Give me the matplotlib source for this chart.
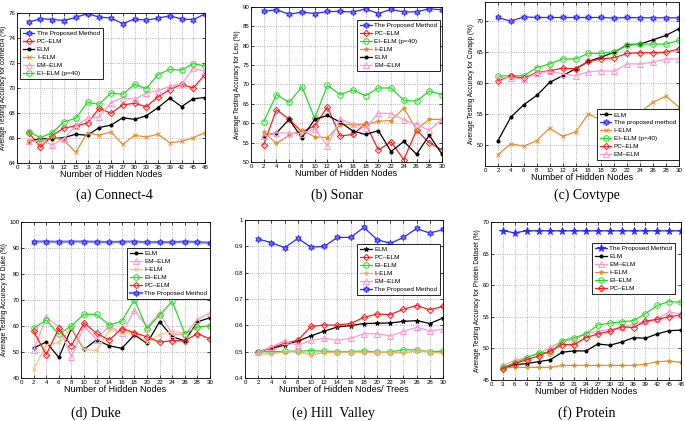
import matplotlib
matplotlib.use("Agg")
import matplotlib.pyplot as plt

plt.rcParams['font.family'] = 'Liberation Sans'

# (a) Connect-4
x_a = [3, 6, 9, 12, 15, 18, 21, 24, 27, 30, 33, 36, 39, 42, 45, 48]
prop_a = [75.25, 75.55, 75.48, 75.4, 75.65, 75.95, 75.67, 75.6, 75.15, 75.52, 75.43, 75.58, 75.78, 75.52, 75.47, 75.93]
pc_a = [66.43, 65.27, 66.2, 66.8, 66.97, 67.2, 68.38, 67.97, 68.65, 68.78, 68.5, 69.3, 69.86, 70.3, 70.0, 71.08]
elm_a = [65.73, 65.95, 65.95, 66.03, 66.3, 66.22, 66.84, 67.03, 67.62, 67.49, 67.78, 68.43, 69.19, 68.51, 69.14, 69.24]
ielm_a = [65.73, 65.73, 66.08, 65.81, 64.86, 66.43, 66.22, 66.49, 65.49, 66.22, 66.08, 66.3, 65.62, 65.73, 66.03, 66.43]
em_a = [65.73, 65.81, 65.46, 65.95, 66.97, 67.57, 67.7, 68.84, 69.24, 69.1, 69.6, 69.78, 70.14, 70.3, 71.57, 71.35]
ei_a = [66.49, 66.03, 66.43, 67.3, 67.57, 68.86, 68.7, 69.6, 69.5, 70.3, 69.95, 71.08, 71.49, 71.43, 71.95, 71.76]

# (b) Sonar
x_b = [2, 4, 6, 8, 10, 12, 14, 16, 18, 20, 22, 24, 26, 28, 30]
prop_b = [88.85, 89.3, 88.1, 88.7, 88.3, 88.85, 88.85, 88.7, 89.5, 88.3, 89.4, 88.7, 88.75, 89.55, 89.25]
pc_b = [54.5, 63.5, 61.0, 57.8, 59.3, 64.2, 56.7, 57.1, 59.9, 53.1, 55.2, 50.6, 58.2, 55.0, 53.1]
ei_b = [60.4, 67.4, 65.4, 69.4, 61.3, 69.8, 67.4, 68.6, 67.1, 69.1, 69.1, 65.9, 65.7, 68.3, 67.4]
ielm_b = [57.7, 54.8, 56.9, 58.2, 56.5, 56.3, 59.6, 59.7, 59.7, 60.5, 60.7, 63.9, 58.4, 61.0, 61.0]
elm_b = [56.8, 57.5, 61.0, 56.2, 61.0, 62.0, 60.3, 58.0, 57.1, 58.1, 52.7, 55.3, 52.0, 56.9, 52.0]
em_b = [56.7, 57.5, 57.5, 57.3, 58.6, 54.2, 61.1, 59.8, 58.8, 62.6, 62.5, 60.9, 59.7, 58.2, 61.0]

# (c) Covtype
x_c = [2, 4, 6, 8, 10, 12, 14, 16, 18, 20, 22, 24, 26, 28, 30]
elm_c = [50.7, 54.5, 56.5, 58.0, 60.1, 61.2, 62.3, 63.5, 64.2, 65.0, 66.2, 66.3, 67.0, 67.7, 68.8]
prop_c = [70.6, 70.0, 70.7, 70.6, 70.6, 70.6, 70.6, 70.6, 70.6, 70.5, 70.6, 70.55, 70.55, 70.55, 70.55]
ielm_c = [48.4, 50.2, 49.8, 50.7, 52.7, 51.4, 52.1, 55.0, 54.0, 54.5, 55.0, 55.3, 56.9, 57.9, 56.1]
ei_c = [61.1, 61.2, 61.2, 62.5, 63.1, 63.9, 63.9, 64.8, 64.8, 65.1, 66.1, 66.3, 66.3, 66.3, 66.9]
pc_c = [60.4, 61.1, 60.8, 61.7, 62.0, 62.4, 62.3, 63.5, 63.9, 64.1, 64.8, 64.9, 64.9, 65.0, 65.5]
em_c = [60.8, 60.9, 60.6, 61.6, 61.9, 61.5, 61.2, 61.8, 62.0, 61.9, 63.1, 63.1, 63.4, 63.9, 63.9]

# (d) Duke
x_d = [2, 4, 6, 8, 10, 12, 14, 16, 18, 20, 22, 24, 26, 28, 30]
elm_d = [51.6, 53.8, 47.9, 59.1, 51.0, 54.7, 52.4, 51.4, 56.6, 53.3, 61.7, 55.9, 54.3, 61.6, 63.2]
em_d = [50.7, 63.3, 59.7, 48.1, 59.9, 54.8, 60.1, 57.2, 66.1, 59.7, 65.0, 56.8, 56.8, 62.5, 65.1]
ielm_d = [43.4, 52.7, 53.7, 59.4, 51.0, 50.6, 58.3, 57.7, 57.3, 53.8, 56.7, 57.9, 57.3, 59.3, 60.1]
ei_d = [59.2, 62.3, 56.8, 60.1, 64.5, 64.5, 60.3, 61.9, 70.1, 59.0, 64.2, 69.5, 57.1, 59.7, 60.1]
pc_d = [58.0, 49.0, 59.1, 52.4, 61.2, 57.2, 54.6, 59.0, 57.5, 55.8, 53.8, 54.4, 54.3, 57.1, 55.0]
prop_d = [92.5, 92.5, 92.4, 92.5, 92.5, 92.4, 92.3, 92.4, 92.5, 92.2, 92.3, 92.2, 92.5, 92.3, 92.0]

# (e) Hill Valley
x_e = [2, 4, 6, 8, 10, 12, 14, 16, 18, 20, 22, 24, 26, 28, 30]
elm_e = [0.501, 0.512, 0.525, 0.54, 0.56, 0.578, 0.594, 0.599, 0.607, 0.608, 0.609, 0.615, 0.618, 0.607, 0.628]
pc_e = [0.500, 0.515, 0.532, 0.543, 0.596, 0.601, 0.601, 0.607, 0.630, 0.643, 0.641, 0.661, 0.675, 0.659, 0.672]
ei_e = [0.500, 0.500, 0.501, 0.502, 0.504, 0.502, 0.500, 0.500, 0.503, 0.498, 0.499, 0.507, 0.507, 0.500, 0.502]
ielm_e = [0.491, 0.492, 0.500, 0.501, 0.487, 0.497, 0.498, 0.498, 0.498, 0.497, 0.498, 0.494, 0.505, 0.499, 0.494]
em_e = [0.497, 0.518, 0.541, 0.524, 0.543, 0.551, 0.543, 0.551, 0.568, 0.568, 0.560, 0.577, 0.593, 0.579, 0.585]
prop_e = [0.928, 0.914, 0.895, 0.930, 0.897, 0.900, 0.934, 0.934, 0.972, 0.926, 0.911, 0.934, 0.968, 0.950, 0.964]

# (f) Protein
x_f = [3, 6, 9, 12, 15, 18, 21, 24, 27, 30, 33, 36, 39, 42, 45, 48]
prop_f = [68.6, 68.3, 68.6, 68.6, 68.6, 68.6, 68.6, 68.6, 68.6, 68.6, 68.6, 68.6, 68.6, 68.6, 68.6, 68.6]
elm_f = [46.9, 47.4, 47.6, 47.9, 48.2, 49.4, 49.6, 49.6, 50.7, 50.5, 51.0, 51.7, 51.6, 52.3, 52.8, 52.9]
em_f = [47.3, 48.1, 48.6, 49.1, 50.2, 51.1, 51.4, 52.3, 52.7, 53.0, 53.4, 53.8, 54.3, 54.6, 55.8, 55.4]
ielm_f = [46.9, 47.0, 47.0, 47.0, 47.0, 47.3, 47.3, 47.3, 47.3, 47.3, 47.3, 47.3, 47.5, 47.9, 48.0, 47.8]
ei_f = [47.0, 47.7, 48.5, 49.3, 49.3, 51.2, 51.7, 52.3, 53.7, 54.0, 54.2, 54.4, 55.5, 56.8, 57.4, 57.3]
pc_f = [46.8, 47.6, 48.2, 48.8, 49.6, 50.6, 50.6, 51.7, 52.3, 52.7, 53.4, 53.3, 54.3, 54.6, 55.0, 55.3]

BLUE = '#2828ff'
RED = '#ff1a1a'
GREEN = '#22dd22'
ORANGE = '#e3902a'
PINK = '#ff99cc'

hexa = (6, 1, 0)
style = {
    'prop': dict(color=BLUE, marker=hexa, markersize=4.5, markerfacecolor='#8080ff', markeredgecolor=BLUE),
    'pc': dict(color=RED, marker='D', markersize=3.2, markerfacecolor='none'),
    'elm': dict(color='black', marker='o', markersize=2.2, markerfacecolor='black'),
    'ielm': dict(color=ORANGE, marker='x', markersize=3.5),
    'em': dict(color=PINK, marker='^', markersize=3.8, markerfacecolor='none'),
    'ei': dict(color=GREEN, marker='o', markersize=4, markerfacecolor='none'),
}


def panel(rect, x, series, xticks, ylim, yticks, ylabel, xlabel, leg_loc, leg_anchor,
          ytickfmt=None):
    ax = fig.add_axes(rect)
    for key, label, vals, extra in series:
        kw = dict(linewidth=0.9, markeredgewidth=0.7)
        kw.update(style[key])
        kw.update(extra)
        ax.plot(x, vals, label=label, **kw)
    ax.set_xlim(0, xticks[-1])
    ax.set_ylim(*ylim)
    ax.set_xticks(xticks)
    ax.set_yticks(yticks)
    if ytickfmt:
        ax.set_yticklabels([ytickfmt(v) for v in yticks])
    ax.grid(True, linestyle=':', color='#9a9a9a', linewidth=0.6)
    ax.tick_params(direction='in', length=2, width=0.5, labelsize=4.4, pad=1.2,
                   top=True, right=True)
    for s in ax.spines.values():
        s.set_linewidth(0.6)
    if ylabel:
        ax.set_ylabel(ylabel, fontsize=4.7, labelpad=0.8)
    ax.set_xlabel(xlabel, fontsize=6.5, labelpad=0.5)
    leg = ax.legend(loc=leg_loc, bbox_to_anchor=leg_anchor, fontsize=4.6, fancybox=False,
                    edgecolor='black', framealpha=1, borderaxespad=0, handlelength=1.8,
                    labelspacing=0.38, borderpad=0.45, handletextpad=0.4)
    leg.get_frame().set_linewidth(0.6)
    return ax


fig = plt.figure(figsize=(6.85, 4.21), dpi=100)

panel([0.0248, 0.6128, 0.2745, 0.3563], x_a,
      [('prop', 'The Proposed Method', prop_a, {}),
       ('pc', 'PC–ELM', pc_a, {}),
       ('elm', 'ELM', elm_a, {}),
       ('ielm', 'I–ELM', ielm_a, {}),
       ('em', 'EM–ELM', em_a, {}),
       ('ei', 'EI–ELM (p=40)', ei_a, {})],
      list(range(0, 49, 3)), (64, 76), list(range(64, 77, 2)),
      'Average Testing Accuracy for connect4 (%)', 'Number of Hidden Nodes',
      'upper left', (0.016, 0.9))

panel([0.3664, 0.6152, 0.2789, 0.3682], x_b,
      [('prop', 'The Proposed Method', prop_b, {}),
       ('pc', 'PC–ELM', pc_b, {}),
       ('ei', 'EI–ELM (p=40)', ei_b, {}),
       ('ielm', 'I–ELM', ielm_b, {'marker': '*', 'markersize': 3}),
       ('elm', 'ELM', elm_b, {}),
       ('em', 'EM–ELM', em_b, {})],
      list(range(0, 31, 2)), (50, 90), list(range(50, 91, 5)),
      'Average Testing Accuracy for Leu (%)', 'Number of Hidden Nodes',
      'upper right', (0.99, 0.916))

panel([0.708, 0.6057, 0.2832, 0.3895], x_c,
      [('elm', 'ELM', elm_c, {}),
       ('prop', 'The proposed method', prop_c, {}),
       ('ielm', 'I–ELM', ielm_c, {}),
       ('ei', 'EI–ELM (p=40)', ei_c, {}),
       ('pc', 'PC–ELM', pc_c, {}),
       ('em', 'EM–ELM', em_c, {})],
      list(range(0, 31, 2)), (46.6, 73.1), list(range(50, 71, 5)),
      'Average Testing Accuracy for Covapp (%)', 'Number of Hidden Nodes',
      'lower right', (1.0, 0.037))

panel([0.0307, 0.1021, 0.2759, 0.3705], x_d,
      [('elm', 'ELM', elm_d, {}),
       ('em', 'EM–ELM', em_d, {}),
       ('ielm', 'I–ELM', ielm_d, {'color': '#ffbf80'}),
       ('ei', 'EI–ELM', ei_d, {}),
       ('pc', 'PC–ELM', pc_d, {}),
       ('prop', 'The Proposed Method', prop_d, {'linewidth': 1.6, 'color': '#6a6aff'})],
      list(range(0, 31, 2)), (40, 100), list(range(40, 101, 10)),
      'Average Testing Accuracy for Duke (%)', 'Number of Hidden Nodes',
      'upper right', (1.0, 0.833))

panel([0.3577, 0.1021, 0.2891, 0.3753], x_e,
      [('elm', 'ELM', elm_e, {'marker': '*', 'markersize': 3.5}),
       ('pc', 'PC–ELM', pc_e, {}),
       ('ei', 'EI–ELM', ei_e, {}),
       ('ielm', 'I–ELM', ielm_e, {'marker': '*', 'markersize': 3, 'color': '#f0b070'}),
       ('em', 'EM–ELM', em_e, {}),
       ('prop', 'The Proposed Method', prop_e, {})],
      list(range(0, 31, 2)), (0.4, 1.0), [0.4, 0.5, 0.6, 0.7, 0.8, 0.9, 1.0],
      None, 'Number of Hidden Nodes/ Trees',
      'upper right', (0.985, 0.848),
      ytickfmt=lambda v: '1' if v == 1.0 else '%.1f' % v)

panel([0.7168, 0.0974, 0.2774, 0.3753], x_f,
      [('prop', 'The Proposed Method', prop_f, {'marker': '*', 'markersize': 5.5, 'markerfacecolor': BLUE}),
       ('elm', 'ELM', elm_f, {}),
       ('em', 'EM–ELM', em_f, {}),
       ('ielm', 'I–ELM', ielm_f, {'marker': '*', 'markersize': 3}),
       ('ei', 'EI–ELM', ei_f, {}),
       ('pc', 'PC–ELM', pc_f, {})],
      list(range(0, 49, 3)), (45, 70), list(range(45, 71, 5)),
      'Average Testing Accuracy for Protein Dataset (%)', 'Number of Hidden Nodes',
      'upper right', (0.969, 0.867))

captions = [('(a) Connect-4', 114, 195), ('(b) Sonar', 337, 195), ('(c) Covtype', 587, 195),
            ('(d) Duke', 96, 413), ('(e) Hill  Valley', 334, 413), ('(f) Protein', 587, 413)]
for txt, cx, cy in captions:
    fig.text(cx / 685, 1 - cy / 421, txt, fontsize=10, family='Liberation Serif',
             ha='center', va='center')

fig.savefig('out.png', dpi=100)
